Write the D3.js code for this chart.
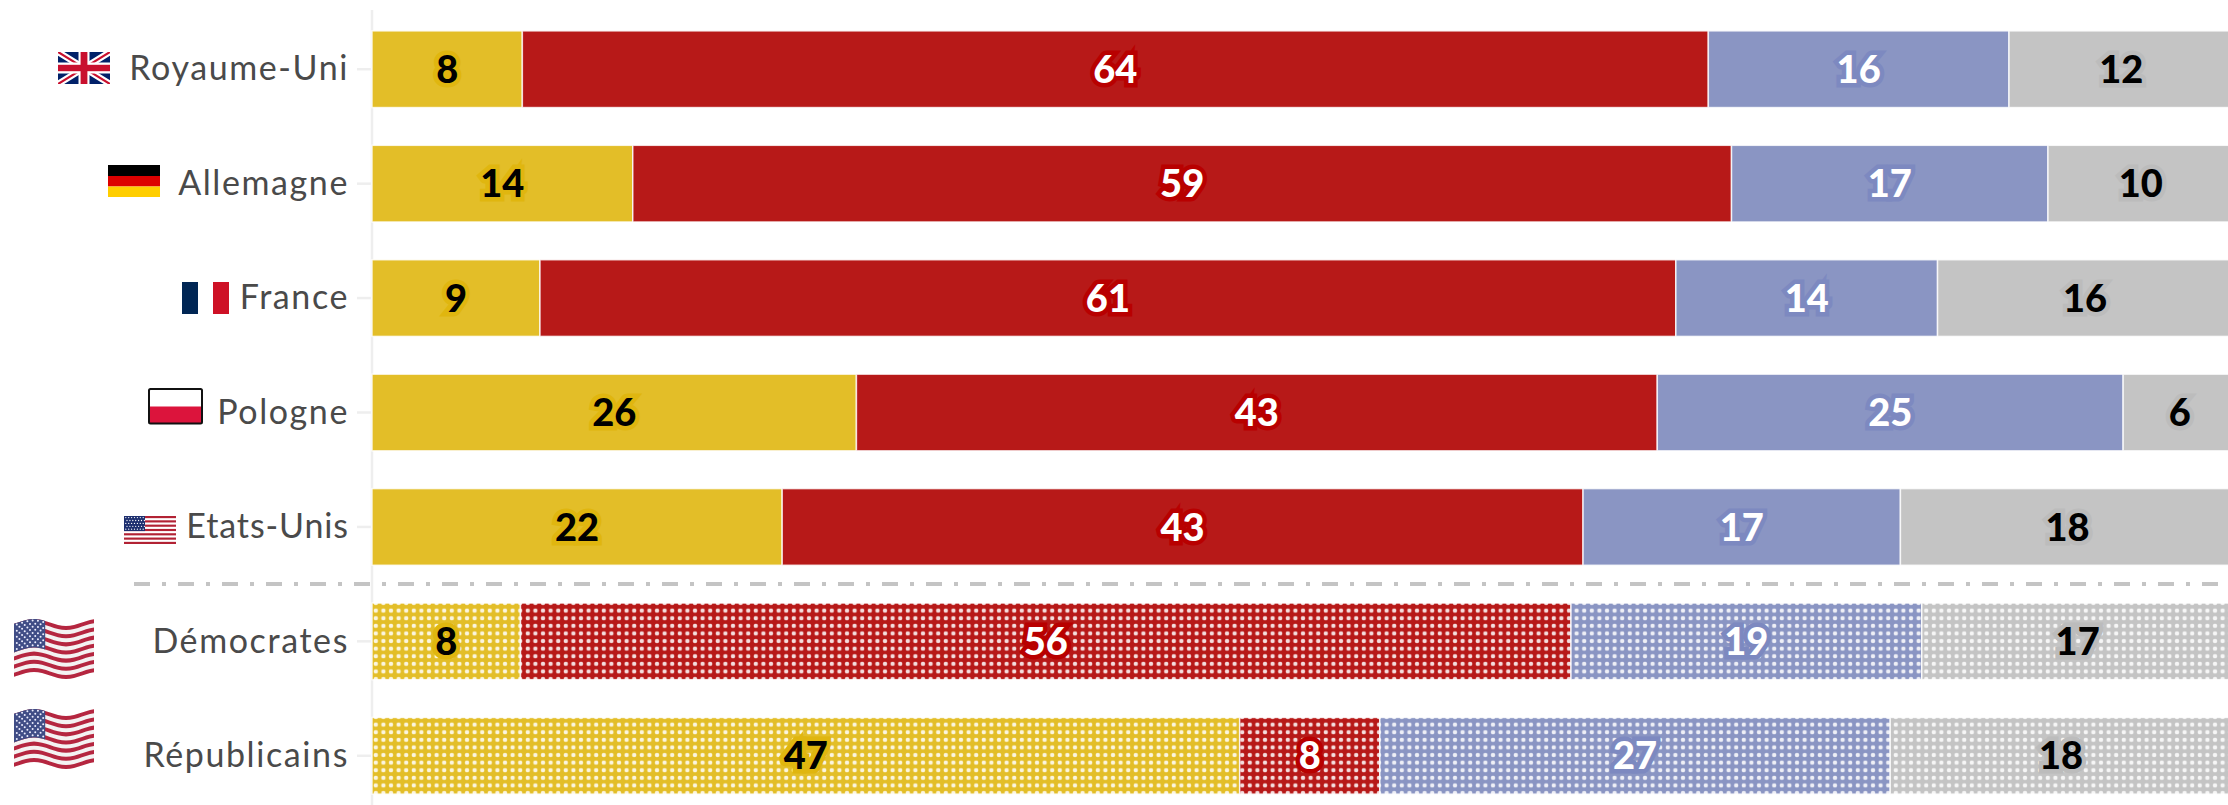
<!DOCTYPE html>
<html lang="fr">
<head>
<meta charset="utf-8">
<script src="https://cdn.jsdelivr.net/npm/d3@7/dist/d3.min.js"></script>
<style>
html,body{margin:0;padding:0;background:#fff;overflow:hidden}
svg{display:block}
</style>
</head>
<body>
<svg id="chart" width="2228" height="805"></svg>
<script>
// ---- data (shares in %) ----
const categories = ["Royaume-Uni","Allemagne","France","Pologne","Etats-Unis","Démocrates","Républicains"];
const seriesA = [8.1,14.05,9.05,26.1,22.1,8.0,46.75];
const seriesB = [63.9,59.2,61.2,43.15,43.15,56.6,7.55];
const seriesC = [16.2,17.05,14.1,25.1,17.1,18.9,27.5];
const seriesD = [12.1,10.0,15.9,6.1,18.0,16.8,18.4];
// printed labels
const labelsA = [8,14,9,26,22,8,47];
const labelsB = [64,59,61,43,43,56,8];
const labelsC = [16,17,14,25,17,19,27];
const labelsD = [12,10,16,6,18,17,18];
const dottedRows = ["Démocrates","Républicains"];
const seriesKeys = ["a","b","c","d"];
const seriesFill = {a:"#E3BE28",b:"#B71918",c:"#8A95C3",d:"#C4C4C4"};
const seriesHalo = {a:"#E0B60F",b:"#B80000",c:"#7D89C0",d:"#BCBCBC"};
const seriesText = {a:"#000",b:"#fff",c:"#fff",d:"#000"};
const seriesLabels = {a:labelsA,b:labelsB,c:labelsC,d:labelsD};

const table = categories.map((c,i)=>({cat:c,a:seriesA[i],b:seriesB[i],c:seriesC[i],d:seriesD[i]}));
const stack = d3.stack().keys(seriesKeys)(table);

const svg = d3.select("#chart");
const x = d3.scaleLinear().domain([0,100]).range([372,2228]);
const y = d3.scaleBand().domain(categories).range([12,813]).paddingInner(0.33).paddingOuter(0.165);

const FONT = "Lato, sans-serif";
const defs = svg.append("defs");
const soft = defs.append("filter").attr("id","soft").attr("x","-50%").attr("y","-50%").attr("width","200%").attr("height","200%");
soft.append("feGaussianBlur").attr("stdDeviation",0.45);
const dotStep = 7.6;
seriesKeys.forEach(k=>{
  const p = defs.append("pattern").attr("id","dots-"+k)
    .attr("patternUnits","userSpaceOnUse").attr("width",dotStep).attr("height",dotStep)
    .attr("patternTransform",`translate(372,${y("Démocrates")-dotStep/2})`);
  p.append("rect").attr("width",dotStep).attr("height",dotStep).attr("fill",seriesFill[k]);
  p.append("circle").attr("cx",dotStep/2).attr("cy",dotStep/2).attr("r",2.2).attr("fill","#fff").attr("opacity",0.85).attr("filter","url(#soft)");
});

// axis
const axis = d3.axisLeft(y).tickSize(15).tickSizeOuter(0).tickPadding(8);
const gAxis = svg.append("g").attr("transform","translate(372,0)").call(axis);
gAxis.select(".domain").remove();
gAxis.selectAll(".tick line").attr("stroke","#eeeeee").attr("stroke-width",2.5);
gAxis.selectAll(".tick text").attr("fill","#4a4a4a").attr("font-family",FONT).attr("font-size",34).attr("font-weight",400)
  .attr("letter-spacing",d=>d==="Etats-Unis"?0.9:1.6).attr("dy","0.33em");
svg.append("line").attr("x1",372).attr("x2",372).attr("y1",10).attr("y2",805).attr("stroke","#eeeeee").attr("stroke-width",2.5);

// bars
const layers = svg.append("g").selectAll("g").data(stack).join("g");
layers.selectAll("rect").data(d=>d.map(v=>({key:d.key,v}))).join("rect")
  .attr("x",d=>x(d.v[0]))
  .attr("width",d=>x(d.v[1])-x(d.v[0]))
  .attr("y",d=>y(d.v.data.cat))
  .attr("height",y.bandwidth())
  .attr("fill",d=>dottedRows.includes(d.v.data.cat)?`url(#dots-${d.key})`:seriesFill[d.key])
  .attr("stroke","#fff").attr("stroke-opacity",0.8).attr("stroke-width",1.5);

// value labels
layers.selectAll("text").data(d=>d.map((v,i)=>({key:d.key,v,i}))).join("text")
  .attr("x",d=>(x(d.v[0])+x(d.v[1]))/2)
  .attr("y",d=>y(d.v.data.cat)+y.bandwidth()/2)
  .attr("dy","0.36em")
  .attr("text-anchor","middle")
  .attr("font-family",FONT).attr("font-weight",900).attr("font-size",38)
  .attr("fill",d=>seriesText[d.key])
  .attr("stroke",d=>seriesHalo[d.key]).attr("stroke-width",9).attr("stroke-linejoin","miter")
  .attr("paint-order","stroke")
  .text(d=>seriesLabels[d.key][d.i]);

// separator
svg.append("line").attr("x1",134).attr("x2",2218).attr("y1",584).attr("y2",584)
  .attr("stroke","#c4c4c4").attr("stroke-width",4).attr("stroke-dasharray","16 12 4 12");

// ---- flags (decoration) ----
const flags = svg.append("g");
function rect(g,x0,y0,w,h,f){return g.append("rect").attr("x",x0).attr("y",y0).attr("width",w).attr("height",h).attr("fill",f);}
// UK
(function(){
  const X=58,Y=52,W=52,H=32;
  defs.append("clipPath").attr("id","ukclip").append("rect").attr("x",X).attr("y",Y).attr("width",W).attr("height",H);
  const g=flags.append("g").attr("clip-path","url(#ukclip)");
  rect(g,X,Y,W,H,"#012169");
  const d=`M${X},${Y}L${X+W},${Y+H}M${X+W},${Y}L${X},${Y+H}`;
  g.append("path").attr("d",d).attr("stroke","#fff").attr("stroke-width",6.5);
  g.append("path").attr("d",d).attr("stroke","#C8102E").attr("stroke-width",2.2);
  rect(g,X,Y+H/2-5.5,W,11,"#fff"); rect(g,X+W/2-5.5,Y,11,H,"#fff");
  rect(g,X,Y+H/2-3.2,W,6.4,"#C8102E"); rect(g,X+W/2-3.4,Y,6.8,H,"#C8102E");
})();
// Germany
rect(flags,108,165,52,11,"#000"); rect(flags,108,176,52,10.5,"#DD0000"); rect(flags,108,186.5,52,10.5,"#FFCE00");
// France
rect(flags,182,282,16,32,"#002654"); rect(flags,213,282,16,32,"#CE1126");
// Poland
rect(flags,149,389,53,17.5,"#fff"); rect(flags,149,406.5,53,17,"#DC143C");
flags.append("rect").attr("x",149).attr("y",389).attr("width",53).attr("height",34.5).attr("rx",1.5).attr("fill","none").attr("stroke","#111").attr("stroke-width",2);
// USA plain
(function(){
  const X=124,Y=516,W=52,H=28;
  rect(flags,X,Y,W,H,"#fff");
  d3.range(0,13,2).forEach(i=>rect(flags,X,Y+i*H/13,W,H/13,"#B22234"));
  rect(flags,X,Y,21,H*7/13,"#1D2F6F");
  const g=flags.append("g");
  d3.range(0,5).forEach(r=>d3.range(0,7).forEach(c=>{
    g.append("circle").attr("cx",X+1.8+c*2.9+(r%2)*1.2).attr("cy",Y+1.6+r*2.9).attr("r",0.65).attr("fill","#fff");
  }));
})();
// USA waving
function wavy(X,Y){
  const W=80,H=53;
  const wy=(u)=>3.5+3.5*Math.sin(2*Math.PI*(u-0.45)/0.8);
  const g=flags.append("g").attr("filter","url(#soft)");
  const strip=(u0,u1,v0,v1,f)=>{
    const pts=d3.range(0,1.0001,0.05).map(t=>u0+(u1-u0)*t);
    const top=pts.map(u=>[X+u*W,Y+v0*H+wy(u)]);
    const bot=pts.slice().reverse().map(u=>[X+u*W,Y+v1*H+wy(u)]);
    g.append("path").attr("d",d3.line()(top.concat(bot))+"Z").attr("fill",f);
  };
  strip(0,1,0,1,"#f4f2f2");
  d3.range(0,13,2).forEach(i=>strip(0,1,i/13,(i+1)/13,"#B5283F"));
  strip(0,0.39,0,7/13,"#3F4E86");
  d3.range(0,9).forEach(r=>d3.range(0,r%2?5:6).forEach(c=>{
    const u=(0.035+c*0.066+(r%2)*0.033), v=0.03+r*0.058;
    g.append("circle").attr("cx",X+u*W).attr("cy",Y+v*H+wy(u)).attr("r",1).attr("fill","#eef");
  }));
}
wavy(14,619);
wavy(14,709);
</script>
</body>
</html>
